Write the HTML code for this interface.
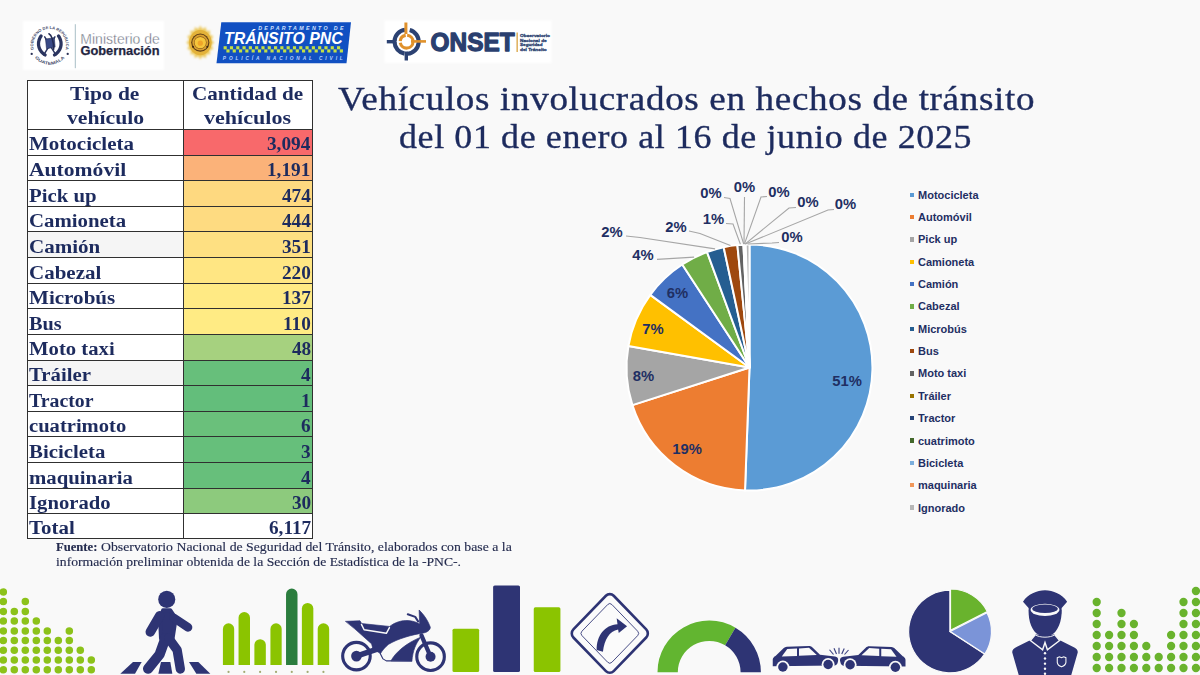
<!DOCTYPE html>
<html><head><meta charset="utf-8"><title>Vehículos involucrados en hechos de tránsito</title>
<style>
html,body{margin:0;padding:0;}
body{width:1200px;height:675px;overflow:hidden;background:#f9f9f9;position:relative;font-family:"Liberation Serif",serif;color:#1d2b5e;}
.abs{position:absolute;}
#tbl{position:absolute;left:27px;top:80px;width:286px;height:459px;background:#fff;}
.cell{position:absolute;box-sizing:border-box;white-space:nowrap;font-weight:bold;font-size:18.7px;line-height:25px;}
.hl{position:absolute;background:#303030;}
.ttl{position:absolute;white-space:nowrap;font-size:34px;line-height:38px;color:#1d2b5e;transform-origin:0 0;-webkit-text-stroke:0.35px #1d2b5e;}
.fn{position:absolute;white-space:nowrap;font-size:12.5px;line-height:15px;color:#252c4f;transform-origin:0 0;-webkit-text-stroke:0.15px #252c4f;}
.lg{position:absolute;white-space:nowrap;font-family:"Liberation Sans",sans-serif;font-weight:bold;font-size:11px;line-height:14px;color:#1f2f63;transform-origin:0 50%;}
.lgm{position:absolute;width:4.4px;height:4.4px;}
svg{position:absolute;left:0;top:0;overflow:visible;}
svg text{font-family:"Liberation Sans",sans-serif;font-weight:bold;}
</style></head><body>
<div class="abs" style="left:27.6px;top:80.2px;width:284.9px;height:458.1px;background:#fff"></div>
<div class="abs" style="left:183.5px;top:129.50px;width:129.0px;height:25.92px;background:#f8696b"></div>
<div class="abs" style="left:183.5px;top:155.12px;width:129.0px;height:25.92px;background:#fbb279"></div>
<div class="abs" style="left:183.5px;top:180.74px;width:129.0px;height:25.92px;background:#fed980"></div>
<div class="abs" style="left:183.5px;top:206.36px;width:129.0px;height:25.92px;background:#fedb81"></div>
<div class="abs" style="left:183.5px;top:231.98px;width:129.0px;height:25.92px;background:#fee082"></div>
<div class="abs" style="left:183.5px;top:257.60px;width:129.0px;height:25.92px;background:#ffe683"></div>
<div class="abs" style="left:183.5px;top:283.22px;width:129.0px;height:25.92px;background:#ffea84"></div>
<div class="abs" style="left:183.5px;top:308.84px;width:129.0px;height:25.92px;background:#ffeb84"></div>
<div class="abs" style="left:183.5px;top:334.46px;width:129.0px;height:25.92px;background:#a6d17f"></div>
<div class="abs" style="left:183.5px;top:360.08px;width:129.0px;height:25.92px;background:#67bf7b"></div>
<div class="abs" style="left:183.5px;top:385.70px;width:129.0px;height:25.92px;background:#63be7b"></div>
<div class="abs" style="left:183.5px;top:411.32px;width:129.0px;height:25.92px;background:#6ac07b"></div>
<div class="abs" style="left:183.5px;top:436.94px;width:129.0px;height:25.92px;background:#66bf7b"></div>
<div class="abs" style="left:183.5px;top:462.56px;width:129.0px;height:25.92px;background:#67bf7b"></div>
<div class="abs" style="left:183.5px;top:488.18px;width:129.0px;height:25.92px;background:#8dca7d"></div>
<div class="abs" style="left:183.5px;top:513.80px;width:129.0px;height:24.50px;background:#ffffff"></div>
<div class="abs" style="left:27.6px;top:231.98px;width:155.9px;height:25.62px;background:#f5f5f5"></div>
<div class="abs" style="left:27.6px;top:360.08px;width:155.9px;height:25.62px;background:#f5f5f5"></div>
<div class="hl" style="left:26.9px;top:79.60px;width:286.3px;height:1.2px"></div>
<div class="hl" style="left:26.9px;top:537.65px;width:286.3px;height:1.3px"></div>
<div class="hl" style="left:26.9px;top:129.00px;width:286.3px;height:1.0px"></div>
<div class="hl" style="left:26.9px;top:154.62px;width:286.3px;height:1.0px"></div>
<div class="hl" style="left:26.9px;top:180.24px;width:286.3px;height:1.0px"></div>
<div class="hl" style="left:26.9px;top:205.86px;width:286.3px;height:1.0px"></div>
<div class="hl" style="left:26.9px;top:231.48px;width:286.3px;height:1.0px"></div>
<div class="hl" style="left:26.9px;top:257.10px;width:286.3px;height:1.0px"></div>
<div class="hl" style="left:26.9px;top:282.72px;width:286.3px;height:1.0px"></div>
<div class="hl" style="left:26.9px;top:308.34px;width:286.3px;height:1.0px"></div>
<div class="hl" style="left:26.9px;top:333.96px;width:286.3px;height:1.0px"></div>
<div class="hl" style="left:26.9px;top:359.58px;width:286.3px;height:1.0px"></div>
<div class="hl" style="left:26.9px;top:385.20px;width:286.3px;height:1.0px"></div>
<div class="hl" style="left:26.9px;top:410.82px;width:286.3px;height:1.0px"></div>
<div class="hl" style="left:26.9px;top:436.44px;width:286.3px;height:1.0px"></div>
<div class="hl" style="left:26.9px;top:462.06px;width:286.3px;height:1.0px"></div>
<div class="hl" style="left:26.9px;top:487.68px;width:286.3px;height:1.0px"></div>
<div class="hl" style="left:26.9px;top:513.30px;width:286.3px;height:1.0px"></div>
<div class="hl" style="left:26.95px;top:79.5px;width:1.3px;height:459.5px"></div>
<div class="hl" style="left:311.85px;top:79.5px;width:1.3px;height:459.5px"></div>
<div class="hl" style="left:183.00px;top:79.5px;width:1.0px;height:459.5px"></div>
<div class="cell" style="left:70.3px;top:81.83px;font-size:19.5px;line-height:24px;transform-origin:0 0;transform:scaleX(1.1008)">Tipo de</div>
<div class="cell" style="left:66.6px;top:105.53px;font-size:19.5px;line-height:24px;transform-origin:0 0;transform:scaleX(1.1119)">vehículo</div>
<div class="cell" style="left:191.6px;top:82.03px;font-size:19.5px;line-height:24px;transform-origin:0 0;transform:scaleX(1.0849)">Cantidad de</div>
<div class="cell" style="left:204.2px;top:105.53px;font-size:19.5px;line-height:24px;transform-origin:0 0;transform:scaleX(1.1308)">vehículos</div>
<div class="cell" style="left:29px;top:131.48px;transform-origin:0 0;transform:scaleX(1.1243)">Motocicleta</div>
<div class="cell" style="left:267.49px;top:131.48px;transform-origin:0 0;transform:scaleX(1.03)">3,094</div>
<div class="cell" style="left:29px;top:157.10px;transform-origin:0 0;transform:scaleX(1.1559)">Automóvil</div>
<div class="cell" style="left:267.49px;top:157.10px;transform-origin:0 0;transform:scaleX(1.03)">1,191</div>
<div class="cell" style="left:29px;top:182.72px;transform-origin:0 0;transform:scaleX(1.1125)">Pick up</div>
<div class="cell" style="left:281.93px;top:182.72px;transform-origin:0 0;transform:scaleX(1.03)">474</div>
<div class="cell" style="left:29px;top:208.34px;transform-origin:0 0;transform:scaleX(1.1146)">Camioneta</div>
<div class="cell" style="left:281.93px;top:208.34px;transform-origin:0 0;transform:scaleX(1.03)">444</div>
<div class="cell" style="left:29px;top:233.96px;transform-origin:0 0;transform:scaleX(1.1256)">Camión</div>
<div class="cell" style="left:281.93px;top:233.96px;transform-origin:0 0;transform:scaleX(1.03)">351</div>
<div class="cell" style="left:29px;top:259.58px;transform-origin:0 0;transform:scaleX(1.1234)">Cabezal</div>
<div class="cell" style="left:281.93px;top:259.58px;transform-origin:0 0;transform:scaleX(1.03)">220</div>
<div class="cell" style="left:29px;top:285.20px;transform-origin:0 0;transform:scaleX(1.1283)">Microbús</div>
<div class="cell" style="left:281.93px;top:285.20px;transform-origin:0 0;transform:scaleX(1.03)">137</div>
<div class="cell" style="left:29px;top:310.82px;transform-origin:0 0;transform:scaleX(1.0849)">Bus</div>
<div class="cell" style="left:282.99px;top:310.82px;transform-origin:0 0;transform:scaleX(1.03)">110</div>
<div class="cell" style="left:29px;top:336.44px;transform-origin:0 0;transform:scaleX(1.1083)">Moto taxi</div>
<div class="cell" style="left:291.55px;top:336.44px;transform-origin:0 0;transform:scaleX(1.03)">48</div>
<div class="cell" style="left:29px;top:362.06px;transform-origin:0 0;transform:scaleX(1.1134)">Tráiler</div>
<div class="cell" style="left:301.18px;top:362.06px;transform-origin:0 0;transform:scaleX(1.03)">4</div>
<div class="cell" style="left:29px;top:387.68px;transform-origin:0 0;transform:scaleX(1.0595)">Tractor</div>
<div class="cell" style="left:301.18px;top:387.68px;transform-origin:0 0;transform:scaleX(1.03)">1</div>
<div class="cell" style="left:29px;top:413.30px;transform-origin:0 0;transform:scaleX(1.1018)">cuatrimoto</div>
<div class="cell" style="left:301.18px;top:413.30px;transform-origin:0 0;transform:scaleX(1.03)">6</div>
<div class="cell" style="left:29px;top:438.92px;transform-origin:0 0;transform:scaleX(1.1139)">Bicicleta</div>
<div class="cell" style="left:301.18px;top:438.92px;transform-origin:0 0;transform:scaleX(1.03)">3</div>
<div class="cell" style="left:29px;top:464.54px;transform-origin:0 0;transform:scaleX(1.1127)">maquinaria</div>
<div class="cell" style="left:301.18px;top:464.54px;transform-origin:0 0;transform:scaleX(1.03)">4</div>
<div class="cell" style="left:29px;top:490.16px;transform-origin:0 0;transform:scaleX(1.1067)">Ignorado</div>
<div class="cell" style="left:291.55px;top:490.16px;transform-origin:0 0;transform:scaleX(1.03)">30</div>
<div class="cell" style="left:29px;top:514.98px;transform-origin:0 0;transform:scaleX(1.1209)">Total</div>
<div class="cell" style="left:268.55px;top:514.98px;transform-origin:0 0;transform:scaleX(1.03)">6,117</div>
<div class="ttl" style="left:337.5px;top:80.24px;letter-spacing:0.6px;transform:scaleX(1.0906)">Vehículos involucrados en hechos de tránsito</div>
<div class="ttl" style="left:398.5px;top:117.74px;letter-spacing:0.6px;transform:scaleX(1.0553)">del 01 de enero al 16 de junio de 2025</div>
<div class="fn" style="left:56.0px;top:539.94px;font-weight:bold;transform:scaleX(1.0105)">Fuente:</div>
<div class="fn" style="left:101.0px;top:539.94px;transform:scaleX(1.1029)">Observatorio Nacional de Seguridad del Tránsito, elaborados con base a la</div>
<div class="fn" style="left:56.0px;top:554.64px;transform:scaleX(1.0935)">información preliminar obtenida de la Sección de Estadística de la -PNC-.</div>
<svg width="1200" height="675" viewBox="0 0 1200 675">
<path d="M749.50 367.50 L749.50 244.50 A123.00 123.00 0 1 1 745.02 490.42 Z" fill="#5B9BD5" stroke="#fff" stroke-width="2.0" stroke-linejoin="round"/>
<path d="M749.50 367.50 L745.02 490.42 A123.00 123.00 0 0 1 632.40 405.14 Z" fill="#ED7D31" stroke="#fff" stroke-width="2.0" stroke-linejoin="round"/>
<path d="M749.50 367.50 L632.40 405.14 A123.00 123.00 0 0 1 628.40 345.98 Z" fill="#A5A5A5" stroke="#fff" stroke-width="2.0" stroke-linejoin="round"/>
<path d="M749.50 367.50 L628.40 345.98 A123.00 123.00 0 0 1 650.26 294.84 Z" fill="#FFC000" stroke="#fff" stroke-width="2.0" stroke-linejoin="round"/>
<path d="M749.50 367.50 L650.26 294.84 A123.00 123.00 0 0 1 682.27 264.50 Z" fill="#4472C4" stroke="#fff" stroke-width="2.0" stroke-linejoin="round"/>
<path d="M749.50 367.50 L682.27 264.50 A123.00 123.00 0 0 1 707.06 252.06 Z" fill="#70AD47" stroke="#fff" stroke-width="2.0" stroke-linejoin="round"/>
<path d="M749.50 367.50 L707.06 252.06 A123.00 123.00 0 0 1 723.67 247.24 Z" fill="#255E91" stroke="#fff" stroke-width="2.0" stroke-linejoin="round"/>
<path d="M749.50 367.50 L723.67 247.24 A123.00 123.00 0 0 1 737.39 245.10 Z" fill="#9E480E" stroke="#fff" stroke-width="2.0" stroke-linejoin="round"/>
<path d="M749.50 367.50 L737.39 245.10 A123.00 123.00 0 0 1 743.44 244.65 Z" fill="#636363" stroke="#fff" stroke-width="2.0" stroke-linejoin="round"/>
<path d="M749.50 367.50 L743.44 244.65 A123.00 123.00 0 0 1 743.94 244.63 Z" fill="#997300" stroke="#fff" stroke-width="2.0" stroke-linejoin="round"/>
<path d="M749.50 367.50 L743.94 244.63 A123.00 123.00 0 0 1 744.07 244.62 Z" fill="#264478" stroke="#fff" stroke-width="2.0" stroke-linejoin="round"/>
<path d="M749.50 367.50 L744.07 244.62 A123.00 123.00 0 0 1 744.83 244.59 Z" fill="#43682B" stroke="#fff" stroke-width="2.0" stroke-linejoin="round"/>
<path d="M749.50 367.50 L744.83 244.59 A123.00 123.00 0 0 1 745.21 244.58 Z" fill="#7CAFDD" stroke="#fff" stroke-width="2.0" stroke-linejoin="round"/>
<path d="M749.50 367.50 L745.21 244.58 A123.00 123.00 0 0 1 745.71 244.56 Z" fill="#F1975A" stroke="#fff" stroke-width="2.0" stroke-linejoin="round"/>
<path d="M749.50 367.50 L745.71 244.56 A123.00 123.00 0 0 1 749.50 244.50 Z" fill="#B7B7B7" stroke="#fff" stroke-width="2.0" stroke-linejoin="round"/>
<path d="M657.0 259.4  L694.1 257.1" fill="none" stroke="#a6a6a6" stroke-width="1.1"/>
<path d="M626.0 236.0 L640.0 237.5 L715.1 248.9" fill="none" stroke="#a6a6a6" stroke-width="1.1"/>
<path d="M689.0 231.0 L700.0 233.5 L730.4 245.5" fill="none" stroke="#a6a6a6" stroke-width="1.1"/>
<path d="M726.0 223.5 L733.0 224.0 L740.4 244.3" fill="none" stroke="#a6a6a6" stroke-width="1.1"/>
<path d="M724.0 197.5 L730.0 198.5 L743.7 244.1" fill="none" stroke="#a6a6a6" stroke-width="1.1"/>
<path d="M744.5 197.0  L744.0 244.1" fill="none" stroke="#a6a6a6" stroke-width="1.1"/>
<path d="M767.0 196.5 L761.0 197.0 L744.4 244.1" fill="none" stroke="#a6a6a6" stroke-width="1.1"/>
<path d="M796.0 207.5 L789.0 208.0 L745.0 244.1" fill="none" stroke="#a6a6a6" stroke-width="1.1"/>
<path d="M834.0 209.5 L828.0 210.0 L745.4 244.1" fill="none" stroke="#a6a6a6" stroke-width="1.1"/>
<path d="M779.0 242.5 L772.0 243.0 L747.6 244.0" fill="none" stroke="#a6a6a6" stroke-width="1.1"/>
<text x="847.0" y="380.5" font-size="14.8" text-anchor="middle" fill="#1f2f63" dominant-baseline="central">51%</text>
<text x="687.0" y="449.0" font-size="14.8" text-anchor="middle" fill="#1f2f63" dominant-baseline="central">19%</text>
<text x="643.5" y="375.5" font-size="14.8" text-anchor="middle" fill="#1f2f63" dominant-baseline="central">8%</text>
<text x="653.0" y="328.5" font-size="14.8" text-anchor="middle" fill="#1f2f63" dominant-baseline="central">7%</text>
<text x="677.5" y="293.0" font-size="14.8" text-anchor="middle" fill="#1f2f63" dominant-baseline="central">6%</text>
<text x="643.0" y="255.0" font-size="14.8" text-anchor="middle" fill="#1f2f63" dominant-baseline="central">4%</text>
<text x="612.0" y="231.5" font-size="14.8" text-anchor="middle" fill="#1f2f63" dominant-baseline="central">2%</text>
<text x="676.0" y="226.5" font-size="14.8" text-anchor="middle" fill="#1f2f63" dominant-baseline="central">2%</text>
<text x="713.5" y="219.0" font-size="14.8" text-anchor="middle" fill="#1f2f63" dominant-baseline="central">1%</text>
<text x="711.0" y="193.0" font-size="14.8" text-anchor="middle" fill="#1f2f63" dominant-baseline="central">0%</text>
<text x="744.5" y="187.0" font-size="14.8" text-anchor="middle" fill="#1f2f63" dominant-baseline="central">0%</text>
<text x="779.0" y="191.5" font-size="14.8" text-anchor="middle" fill="#1f2f63" dominant-baseline="central">0%</text>
<text x="808.0" y="202.0" font-size="14.8" text-anchor="middle" fill="#1f2f63" dominant-baseline="central">0%</text>
<text x="845.5" y="204.0" font-size="14.8" text-anchor="middle" fill="#1f2f63" dominant-baseline="central">0%</text>
<text x="792.0" y="237.0" font-size="14.8" text-anchor="middle" fill="#1f2f63" dominant-baseline="central">0%</text>
</svg>
<div class="lgm" style="left:909.7px;top:192.6px;background:#5B9BD5"></div>
<div class="lg" style="left:918px;top:187.7px;">Motocicleta</div>
<div class="lgm" style="left:909.7px;top:214.9px;background:#ED7D31"></div>
<div class="lg" style="left:918px;top:210.0px;">Automóvil</div>
<div class="lgm" style="left:909.7px;top:237.3px;background:#A5A5A5"></div>
<div class="lg" style="left:918px;top:232.4px;">Pick up</div>
<div class="lgm" style="left:909.7px;top:259.6px;background:#FFC000"></div>
<div class="lg" style="left:918px;top:254.7px;">Camioneta</div>
<div class="lgm" style="left:909.7px;top:282.0px;background:#4472C4"></div>
<div class="lg" style="left:918px;top:277.1px;">Camión</div>
<div class="lgm" style="left:909.7px;top:304.3px;background:#70AD47"></div>
<div class="lg" style="left:918px;top:299.4px;">Cabezal</div>
<div class="lgm" style="left:909.7px;top:326.7px;background:#255E91"></div>
<div class="lg" style="left:918px;top:321.8px;">Microbús</div>
<div class="lgm" style="left:909.7px;top:349.0px;background:#9E480E"></div>
<div class="lg" style="left:918px;top:344.1px;">Bus</div>
<div class="lgm" style="left:909.7px;top:371.3px;background:#636363"></div>
<div class="lg" style="left:918px;top:366.4px;">Moto taxi</div>
<div class="lgm" style="left:909.7px;top:393.7px;background:#997300"></div>
<div class="lg" style="left:918px;top:388.8px;">Tráiler</div>
<div class="lgm" style="left:909.7px;top:416.0px;background:#264478"></div>
<div class="lg" style="left:918px;top:411.1px;">Tractor</div>
<div class="lgm" style="left:909.7px;top:438.4px;background:#43682B"></div>
<div class="lg" style="left:918px;top:433.5px;">cuatrimoto</div>
<div class="lgm" style="left:909.7px;top:460.7px;background:#7CAFDD"></div>
<div class="lg" style="left:918px;top:455.8px;">Bicicleta</div>
<div class="lgm" style="left:909.7px;top:483.1px;background:#F1975A"></div>
<div class="lg" style="left:918px;top:478.2px;">maquinaria</div>
<div class="lgm" style="left:909.7px;top:505.4px;background:#B7B7B7"></div>
<div class="lg" style="left:918px;top:500.5px;">Ignorado</div>
<svg width="1200" height="675" viewBox="0 0 1200 675">
<defs><filter id="soft" x="-5%" y="-10%" width="110%" height="120%"><feGaussianBlur stdDeviation="0.9"/></filter></defs>
<rect x="23" y="21" width="141" height="49" fill="#ffffff" filter="url(#soft)"/>
<path id="arcTop" d="M34.49 51.44 A16.40 16.40 0 1 1 64.91 51.44" fill="none"/>
<path id="arcBot" d="M34.01 56.70 A19.40 19.40 0 0 0 65.39 56.70" fill="none"/>
<text font-size="4.0" fill="#444b6a" textLength="59.6" lengthAdjust="spacingAndGlyphs" style="font-weight:bold"><textPath href="#arcTop" startOffset="3%">GOBIERNO DE LA REPÚBLICA</textPath></text>
<text font-size="4.2" fill="#444b6a" textLength="33.6" lengthAdjust="spacingAndGlyphs" style="font-weight:bold"><textPath href="#arcBot" startOffset="4%">GUATEMALA</textPath></text>
<circle cx="31.7" cy="53.9" r="1.15" fill="#2a3156"/>
<circle cx="67.7" cy="53.9" r="1.15" fill="#2a3156"/>
<path d="M41.1 36.1 C36.5 42.3 38.2 50.8 45.1 54.9" fill="none" stroke="#2b3560" stroke-width="3.3" stroke-linecap="round" stroke-dasharray="2.2 0.5"/>
<path d="M58.5 36.1 C63.1 42.3 61.4 50.8 54.5 54.9" fill="none" stroke="#2b3560" stroke-width="3.3" stroke-linecap="round" stroke-dasharray="2.2 0.5"/>
<path d="M44.7 36.8 L55.9 54.9 M54.9 36.8 L43.7 54.9" stroke="#2b3560" stroke-width="1.5" stroke-linecap="round"/>
<path d="M45.5 39.1 L54.3 37.7 L55.1 47.1 L46.5 48.7 Z" fill="#3a4a86" stroke="#222a52" stroke-width="0.6"/>
<path d="M48.9 33.7 C50.3 34.3 51.3 35.8 52.1 38.3 C53.3 42.3 53.9 45.8 53.7 49.3" fill="none" stroke="#222a52" stroke-width="1.5" stroke-linecap="round"/>
<rect x="74.8" y="24.2" width="1.0" height="44" fill="#a9bfc6"/>
<text x="80.3" y="44.0" font-size="14.6" fill="#646a78" textLength="79.5" lengthAdjust="spacingAndGlyphs" style="font-weight:normal" stroke="#ffffff" stroke-width="0.35">Ministerio de</text>
<text x="80.5" y="55.4" font-size="12.6" fill="#1f2541" textLength="79" lengthAdjust="spacingAndGlyphs" stroke="#1f2541" stroke-width="0.25">Gobernación</text>
<polygon points="200.30,25.60 202.49,29.26 205.66,26.89 206.52,31.29 210.20,30.58 209.61,35.04 213.23,36.09 211.28,39.95 214.30,42.60 211.28,45.25 213.23,49.11 209.61,50.16 210.20,54.62 206.52,53.91 205.66,58.31 202.49,55.94 200.30,59.60 198.11,55.94 194.94,58.31 194.08,53.91 190.40,54.62 190.99,50.16 187.37,49.11 189.32,45.25 186.30,42.60 189.32,39.95 187.37,36.09 190.99,35.04 190.40,30.58 194.08,31.29 194.94,26.89 198.11,29.26" fill="#ecc95c" filter="url(#soft)"/>
<ellipse cx="200.3" cy="42.6" rx="11.3" ry="12.6" fill="#e3b23a"/>
<circle cx="200.3" cy="42.6" r="9.1" fill="#5e3d17"/>
<circle cx="200.3" cy="42.6" r="8.0" fill="#d8a031"/>
<circle cx="200.3" cy="42.6" r="6.3" fill="#8a5a1c"/>
<circle cx="200.3" cy="42.6" r="5.7" fill="#f6c63c"/>
<circle cx="200.3" cy="43.2" r="2.6" fill="#f0a428"/>
<circle cx="193.0" cy="46.7" r="1.0" fill="#3a2410"/>
<circle cx="207.3" cy="46.7" r="1.0" fill="#3a2410"/>
<path d="M221.3 22.2 L351 22.2 L346.5 63.3 L216.5 63.3 Z" fill="#1150c2"/>
<text x="258.2" y="30.1" font-size="5.3" fill="#cfe0ff" textLength="85.3" lengthAdjust="spacing" style="font-style:italic">DEPARTAMENTO DE</text>
<text x="224" y="44.4" font-size="16.2" fill="#ffffff" textLength="118.8" lengthAdjust="spacingAndGlyphs" style="font-style:italic">TRÁNSITO PNC</text>
<rect x="223.60" y="46.20" width="3.15" height="3.15" fill="#c3df45"/>
<rect x="229.90" y="46.20" width="3.15" height="3.15" fill="#c3df45"/>
<rect x="236.20" y="46.20" width="3.15" height="3.15" fill="#c3df45"/>
<rect x="242.50" y="46.20" width="3.15" height="3.15" fill="#c3df45"/>
<rect x="248.80" y="46.20" width="3.15" height="3.15" fill="#c3df45"/>
<rect x="255.10" y="46.20" width="3.15" height="3.15" fill="#c3df45"/>
<rect x="261.40" y="46.20" width="3.15" height="3.15" fill="#c3df45"/>
<rect x="267.70" y="46.20" width="3.15" height="3.15" fill="#c3df45"/>
<rect x="274.00" y="46.20" width="3.15" height="3.15" fill="#c3df45"/>
<rect x="280.30" y="46.20" width="3.15" height="3.15" fill="#c3df45"/>
<rect x="286.60" y="46.20" width="3.15" height="3.15" fill="#c3df45"/>
<rect x="292.90" y="46.20" width="3.15" height="3.15" fill="#c3df45"/>
<rect x="299.20" y="46.20" width="3.15" height="3.15" fill="#c3df45"/>
<rect x="305.50" y="46.20" width="3.15" height="3.15" fill="#c3df45"/>
<rect x="311.80" y="46.20" width="3.15" height="3.15" fill="#c3df45"/>
<rect x="318.10" y="46.20" width="3.15" height="3.15" fill="#c3df45"/>
<rect x="324.40" y="46.20" width="3.15" height="3.15" fill="#c3df45"/>
<rect x="330.70" y="46.20" width="3.15" height="3.15" fill="#c3df45"/>
<rect x="337.00" y="46.20" width="3.15" height="3.15" fill="#c3df45"/>
<rect x="226.40" y="49.35" width="3.15" height="3.15" fill="#c3df45"/>
<rect x="232.70" y="49.35" width="3.15" height="3.15" fill="#c3df45"/>
<rect x="239.00" y="49.35" width="3.15" height="3.15" fill="#c3df45"/>
<rect x="245.30" y="49.35" width="3.15" height="3.15" fill="#c3df45"/>
<rect x="251.60" y="49.35" width="3.15" height="3.15" fill="#c3df45"/>
<rect x="257.90" y="49.35" width="3.15" height="3.15" fill="#c3df45"/>
<rect x="264.20" y="49.35" width="3.15" height="3.15" fill="#c3df45"/>
<rect x="270.50" y="49.35" width="3.15" height="3.15" fill="#c3df45"/>
<rect x="276.80" y="49.35" width="3.15" height="3.15" fill="#c3df45"/>
<rect x="283.10" y="49.35" width="3.15" height="3.15" fill="#c3df45"/>
<rect x="289.40" y="49.35" width="3.15" height="3.15" fill="#c3df45"/>
<rect x="295.70" y="49.35" width="3.15" height="3.15" fill="#c3df45"/>
<rect x="302.00" y="49.35" width="3.15" height="3.15" fill="#c3df45"/>
<rect x="308.30" y="49.35" width="3.15" height="3.15" fill="#c3df45"/>
<rect x="314.60" y="49.35" width="3.15" height="3.15" fill="#c3df45"/>
<rect x="320.90" y="49.35" width="3.15" height="3.15" fill="#c3df45"/>
<rect x="327.20" y="49.35" width="3.15" height="3.15" fill="#c3df45"/>
<rect x="333.50" y="49.35" width="3.15" height="3.15" fill="#c3df45"/>
<rect x="339.80" y="49.35" width="3.15" height="3.15" fill="#c3df45"/>
<text x="222.8" y="59.9" font-size="4.8" fill="#b9d2ff" textLength="120" lengthAdjust="spacing" style="font-style:italic">POLICÍA NACIONAL CIVIL</text>
<rect x="384.5" y="20.5" width="167" height="42.5" fill="#ffffff" filter="url(#soft)"/>
<path d="M409.73 30.01 A12.10 12.10 0 0 1 407.65 53.75" fill="none" stroke="#2c4272" stroke-width="4.1"/>
<path d="M404.50 53.62 A12.10 12.10 0 0 1 394.51 42.12" fill="none" stroke="#2c4272" stroke-width="4.1"/>
<path d="M394.51 41.28 A12.10 12.10 0 0 1 404.92 29.72" fill="none" stroke="#2c4272" stroke-width="4.1"/>
<path d="M386.8 41.7 L396.5 41.7" stroke="#2c4272" stroke-width="3.4"/>
<path d="M406.3 51.5 L406.3 60.5" stroke="#2c4272" stroke-width="3.4"/>
<path d="M407.16 35.32 A6.40 6.40 0 1 1 400.30 42.81" fill="none" stroke="#e0912b" stroke-width="3.1"/>
<path d="M400.22 41.14 A6.40 6.40 0 0 1 405.71 35.36" fill="none" stroke="#e0912b" stroke-width="3.1"/>
<path d="M405.9 22.5 L405.9 34" stroke="#e0912b" stroke-width="3.0"/>
<path d="M411 41.4 L426 41.4" stroke="#e0912b" stroke-width="2.6"/>
<text x="430.6" y="51.3" font-size="26" fill="#2a3f6f" stroke="#2a3f6f" stroke-width="1.3" stroke-linejoin="round" textLength="84" lengthAdjust="spacingAndGlyphs">ONSET</text>
<rect x="516.5" y="32.5" width="1.3" height="19.5" fill="#d9a441"/>
<text x="520" y="36.7" font-size="4.2" fill="#2a3f6f" stroke="#2a3f6f" stroke-width="0.3" textLength="30.0" lengthAdjust="spacingAndGlyphs">Observatorio</text>
<text x="520" y="41.5" font-size="4.2" fill="#2a3f6f" stroke="#2a3f6f" stroke-width="0.3" textLength="26.7" lengthAdjust="spacingAndGlyphs">Nacional de</text>
<text x="520" y="46.2" font-size="4.2" fill="#2a3f6f" stroke="#2a3f6f" stroke-width="0.3" textLength="22.5" lengthAdjust="spacingAndGlyphs">Seguridad</text>
<text x="520" y="51.0" font-size="4.2" fill="#2a3f6f" stroke="#2a3f6f" stroke-width="0.3" textLength="26.7" lengthAdjust="spacingAndGlyphs">del Tránsito</text>
</svg>
<svg width="1200" height="675" viewBox="0 0 1200 675">
<circle cx="3.3" cy="591.9" r="3.75" fill="#8cc21a"/>
<circle cx="3.3" cy="601.6" r="3.75" fill="#8cc21a"/>
<circle cx="3.3" cy="611.4" r="3.75" fill="#8cc21a"/>
<circle cx="3.3" cy="621.1" r="3.75" fill="#8cc21a"/>
<circle cx="3.3" cy="630.9" r="3.75" fill="#8cc21a"/>
<circle cx="3.3" cy="640.6" r="3.75" fill="#8cc21a"/>
<circle cx="3.3" cy="650.3" r="3.75" fill="#8cc21a"/>
<circle cx="3.3" cy="660.1" r="3.75" fill="#8cc21a"/>
<circle cx="3.3" cy="669.8" r="3.75" fill="#8cc21a"/>
<circle cx="14.3" cy="611.4" r="3.75" fill="#8cc21a"/>
<circle cx="14.3" cy="621.1" r="3.75" fill="#8cc21a"/>
<circle cx="14.3" cy="630.9" r="3.75" fill="#8cc21a"/>
<circle cx="14.3" cy="640.6" r="3.75" fill="#8cc21a"/>
<circle cx="14.3" cy="650.3" r="3.75" fill="#8cc21a"/>
<circle cx="14.3" cy="660.1" r="3.75" fill="#8cc21a"/>
<circle cx="14.3" cy="669.8" r="3.75" fill="#8cc21a"/>
<circle cx="25.3" cy="601.6" r="3.75" fill="#8cc21a"/>
<circle cx="25.3" cy="611.4" r="3.75" fill="#8cc21a"/>
<circle cx="25.3" cy="621.1" r="3.75" fill="#8cc21a"/>
<circle cx="25.3" cy="630.9" r="3.75" fill="#8cc21a"/>
<circle cx="25.3" cy="640.6" r="3.75" fill="#8cc21a"/>
<circle cx="25.3" cy="650.3" r="3.75" fill="#8cc21a"/>
<circle cx="25.3" cy="660.1" r="3.75" fill="#8cc21a"/>
<circle cx="25.3" cy="669.8" r="3.75" fill="#8cc21a"/>
<circle cx="36.3" cy="621.1" r="3.75" fill="#8cc21a"/>
<circle cx="36.3" cy="630.9" r="3.75" fill="#8cc21a"/>
<circle cx="36.3" cy="640.6" r="3.75" fill="#8cc21a"/>
<circle cx="36.3" cy="650.3" r="3.75" fill="#8cc21a"/>
<circle cx="36.3" cy="660.1" r="3.75" fill="#8cc21a"/>
<circle cx="36.3" cy="669.8" r="3.75" fill="#8cc21a"/>
<circle cx="47.3" cy="630.9" r="3.75" fill="#8cc21a"/>
<circle cx="47.3" cy="640.6" r="3.75" fill="#8cc21a"/>
<circle cx="47.3" cy="650.3" r="3.75" fill="#8cc21a"/>
<circle cx="47.3" cy="660.1" r="3.75" fill="#8cc21a"/>
<circle cx="47.3" cy="669.8" r="3.75" fill="#8cc21a"/>
<circle cx="58.3" cy="640.6" r="3.75" fill="#8cc21a"/>
<circle cx="58.3" cy="650.3" r="3.75" fill="#8cc21a"/>
<circle cx="58.3" cy="660.1" r="3.75" fill="#8cc21a"/>
<circle cx="58.3" cy="669.8" r="3.75" fill="#8cc21a"/>
<circle cx="69.3" cy="630.9" r="3.75" fill="#8cc21a"/>
<circle cx="69.3" cy="640.6" r="3.75" fill="#8cc21a"/>
<circle cx="69.3" cy="650.3" r="3.75" fill="#8cc21a"/>
<circle cx="69.3" cy="660.1" r="3.75" fill="#8cc21a"/>
<circle cx="69.3" cy="669.8" r="3.75" fill="#8cc21a"/>
<circle cx="80.3" cy="650.3" r="3.75" fill="#8cc21a"/>
<circle cx="80.3" cy="660.1" r="3.75" fill="#8cc21a"/>
<circle cx="80.3" cy="669.8" r="3.75" fill="#8cc21a"/>
<circle cx="91.3" cy="660.1" r="3.75" fill="#8cc21a"/>
<circle cx="91.3" cy="669.8" r="3.75" fill="#8cc21a"/>
<g transform="translate(115,585) scale(0.133333)" fill="#2e3474" stroke="#2e3474" stroke-linecap="round" stroke-linejoin="round">
<circle cx="388" cy="108" r="64" stroke="none"/>
<path d="M360 190 L415 190 L455 250 L432 400 L345 400 L338 250 Z" stroke-width="30"/>
<path d="M335 232 L265 352" fill="none" stroke-width="72"/>
<path d="M440 245 L548 318" fill="none" stroke-width="64"/>
<path d="M378 400 L335 520 L248 628" fill="none" stroke-width="76"/>
<path d="M402 400 L466 488 L490 630" fill="none" stroke-width="70"/>
<path d="M135 578 L200 578 L150 665 L40 665 Z" stroke="none"/>
<path d="M345 578 L415 578 L430 665 L325 665 Z" stroke="none"/>
<path d="M555 578 L625 578 L715 665 L610 665 Z" stroke="none"/>
</g>
<path d="M222.92 665.00 L222.92 628.96 A5.62 5.62 0 0 1 234.17 628.96 L234.17 665.00 Z" fill="#8bc400"/>
<circle cx="228.54" cy="671.9" r="1.1" fill="#a3ab72"/>
<path d="M238.54 665.00 L238.54 617.81 A5.73 5.73 0 0 1 250.00 617.81 L250.00 665.00 Z" fill="#8bc400"/>
<circle cx="244.27" cy="671.9" r="1.1" fill="#a3ab72"/>
<path d="M254.38 665.00 L254.38 644.69 A5.73 5.73 0 0 1 265.83 644.69 L265.83 665.00 Z" fill="#8bc400"/>
<circle cx="260.10" cy="671.9" r="1.1" fill="#a3ab72"/>
<path d="M270.42 665.00 L270.42 628.96 A5.62 5.62 0 0 1 281.67 628.96 L281.67 665.00 Z" fill="#8bc400"/>
<circle cx="276.04" cy="671.9" r="1.1" fill="#a3ab72"/>
<path d="M286.04 665.00 L286.04 594.27 A5.73 5.73 0 0 1 297.50 594.27 L297.50 665.00 Z" fill="#2b7d3e"/>
<circle cx="291.77" cy="671.9" r="1.1" fill="#a3ab72"/>
<path d="M301.88 665.00 L301.88 608.44 A5.73 5.73 0 0 1 313.33 608.44 L313.33 665.00 Z" fill="#8bc400"/>
<circle cx="307.60" cy="671.9" r="1.1" fill="#a3ab72"/>
<path d="M317.71 665.00 L317.71 629.06 A5.73 5.73 0 0 1 329.17 629.06 L329.17 665.00 Z" fill="#8bc400"/>
<circle cx="323.44" cy="671.9" r="1.1" fill="#a3ab72"/>
<g transform="translate(335,600) scale(0.111111)" fill="#2e3474" stroke="#2e3474" stroke-linecap="round" stroke-linejoin="round">
<path d="M97 192 L225 187 L240 212 L492 238 C540 200 600 182 660 185 C700 188 735 200 762 215 L757 90 C800 130 840 190 858 245 C858 270 830 290 800 296 C700 310 560 350 480 400 C450 425 425 455 410 482 L340 440 L330 395 L180 262 Z" stroke-width="6"/>
<circle cx="193" cy="505" r="150" fill="none" stroke="#f9f9f9" stroke-width="18"/>
<circle cx="193" cy="505" r="124" fill="none" stroke-width="28"/>
<circle cx="193" cy="505" r="48" stroke="none"/>
<circle cx="860" cy="510" r="124" fill="none" stroke-width="28"/>
<circle cx="860" cy="510" r="45" stroke="none"/>
<path d="M193 505 L400 435" fill="none" stroke-width="50"/>
<path d="M778 318 L860 510" fill="none" stroke-width="38"/>
<path d="M505 545 C545 470 640 390 770 335 C725 400 702 450 692 548 Z" stroke-width="6"/>
<path d="M406 480 L432 530 L462 548 L690 548" fill="none" stroke-width="10"/>
<path d="M655 128 L722 152 L748 192" fill="none" stroke-width="18"/>
<path d="M238 220 L262 268 L462 300 L490 248" fill="none" stroke="#f9f9f9" stroke-width="13"/>
</g>
<rect x="452.50" y="628.75" width="26.67" height="43.33" rx="1.6" fill="#8bc400"/>
<rect x="493.12" y="585.42" width="26.88" height="86.67" rx="1.6" fill="#2e3474"/>
<rect x="533.75" y="607.29" width="26.67" height="64.79" rx="1.6" fill="#8bc400"/>
<g transform="translate(609.8,633.4) scale(1,1.035) rotate(45)">
<rect x="-28.5" y="-28.5" width="57" height="57" rx="5.5" fill="#fbfbfb" stroke="#2e3474" stroke-width="2.6"/>
<rect x="-21.2" y="-21.2" width="42.4" height="42.4" rx="3" fill="none" stroke="#2e3474" stroke-width="0.8"/>
</g>
<g transform="translate(440,575) scale(0.208333)" fill="#2e3474" stroke="none">
<path d="M752 360 C752 290 790 240 852 236 L848 208 L898 246 L858 278 L855 262 C812 270 790 310 782 368 Z"/>
</g>
<path d="M657.50 672.30 A51.70 51.70 0 0 1 735.44 627.75 L725.14 645.24 A31.40 31.40 0 0 0 677.80 672.30 Z" fill="#62b530"/>
<path d="M735.44 627.75 A51.70 51.70 0 0 1 760.90 672.30 L740.60 672.30 A31.40 31.40 0 0 0 725.14 645.24 Z" fill="#2e3474"/>
<g transform="translate(765,635) scale(0.125)" fill="#2e3474" stroke="none">
<path d="M62 246 L62 196 C64 182 72 174 84 168 L150 104 C156 98 164 95 174 94 L352 88 C364 88 372 92 380 100 L440 158 L560 172 C578 176 588 186 586 204 L580 226 C576 236 568 242 556 244 L62 250 Z"/><path d="M134 172 L178 112 L256 108 L256 168 Z" fill="#f9f9f9"/><path d="M272 166 L272 107 L352 102 L414 160 Z" fill="#f9f9f9"/><circle cx="143" cy="256" r="52" fill="#f9f9f9"/><circle cx="143" cy="256" r="38"/><circle cx="505" cy="236" r="52" fill="#f9f9f9"/><circle cx="505" cy="236" r="38"/>
<g transform="translate(1186,2) scale(-1,1)"><path d="M62 246 L62 196 C64 182 72 174 84 168 L150 104 C156 98 164 95 174 94 L352 88 C364 88 372 92 380 100 L440 158 L560 172 C578 176 588 186 586 204 L580 226 C576 236 568 242 556 244 L62 250 Z"/><path d="M134 172 L178 112 L256 108 L256 168 Z" fill="#f9f9f9"/><path d="M272 166 L272 107 L352 102 L414 160 Z" fill="#f9f9f9"/><circle cx="143" cy="256" r="52" fill="#f9f9f9"/><circle cx="143" cy="256" r="38"/><circle cx="505" cy="236" r="52" fill="#f9f9f9"/><circle cx="505" cy="236" r="38"/></g>
<path d="M516 118 L548 156" stroke="#3a4080" stroke-width="9" fill="none"/>
<path d="M552 106 L572 152" stroke="#3a4080" stroke-width="9" fill="none"/>
<path d="M592 102 L592 150" stroke="#3a4080" stroke-width="9" fill="none"/>
<path d="M634 108 L614 152" stroke="#3a4080" stroke-width="9" fill="none"/>
<path d="M668 120 L636 156" stroke="#3a4080" stroke-width="9" fill="none"/>
<rect x="588" y="168" width="8" height="60" fill="#f9f9f9"/>
</g>
<path d="M949.90 631.50 L984.54 653.99 A41.30 41.30 0 1 1 949.90 590.20 Z" fill="#2e3474" stroke="#f9f9f9" stroke-width="1.2"/>
<path d="M950.20 631.50 L987.00 612.75 A41.30 41.30 0 0 1 984.84 653.99 Z" fill="#7b94d8" stroke="#f9f9f9" stroke-width="1.2"/>
<path d="M950.50 630.30 L950.50 589.00 A41.30 41.30 0 0 1 987.30 611.55 Z" fill="#69b32d" stroke="#f9f9f9" stroke-width="1.2"/>
<g transform="translate(1005,585) scale(0.133333)" fill="#2e3474" stroke="none">
<path d="M135 126 C170 70 240 40 300 40 C360 40 430 70 466 126 L425 172 L422 215 L180 215 L177 172 Z"/>
<path d="M178 185 L424 185 C430 270 392 352 352 372 C330 386 272 386 250 372 C208 352 172 270 178 185 Z"/>
<ellipse cx="300" cy="186" rx="108" ry="46" fill="#f9f9f9"/>
<ellipse cx="300" cy="178" rx="96" ry="32"/>
<path d="M228 372 L372 372 L412 414 L520 468 C540 478 548 492 545 508 L497 675 L103 675 L55 508 C52 492 60 478 80 468 L188 414 Z"/>
<path d="M226 374 L190 416 L282 486 L300 432 L318 486 L410 416 L374 374" fill="none" stroke="#f9f9f9" stroke-width="11" stroke-linejoin="miter"/>
<path d="M224 372 C262 398 338 398 376 372" fill="none" stroke="#f9f9f9" stroke-width="7"/>
<circle cx="300" cy="512" r="9" fill="#f9f9f9"/>
<circle cx="300" cy="551" r="9" fill="#f9f9f9"/>
<circle cx="300" cy="590" r="9" fill="#f9f9f9"/>
<circle cx="300" cy="628" r="9" fill="#f9f9f9"/>
<circle cx="300" cy="666" r="9" fill="#f9f9f9"/>
<path d="M392 545 L408 538 L424 545 L440 538 L457 545 L457 580 C455 598 440 608 424 614 C408 608 394 598 392 580 Z" fill="none" stroke="#f9f9f9" stroke-width="8"/>
</g>
<circle cx="1096.7" cy="602.0" r="4.15" fill="#69b32d"/>
<circle cx="1096.7" cy="613.0" r="4.15" fill="#69b32d"/>
<circle cx="1096.7" cy="624.0" r="4.15" fill="#69b32d"/>
<circle cx="1096.7" cy="635.0" r="4.15" fill="#69b32d"/>
<circle cx="1096.7" cy="646.0" r="4.15" fill="#69b32d"/>
<circle cx="1096.7" cy="657.0" r="4.15" fill="#69b32d"/>
<circle cx="1096.7" cy="668.0" r="4.15" fill="#69b32d"/>
<circle cx="1109.1" cy="635.0" r="4.15" fill="#69b32d"/>
<circle cx="1109.1" cy="646.0" r="4.15" fill="#69b32d"/>
<circle cx="1109.1" cy="657.0" r="4.15" fill="#69b32d"/>
<circle cx="1109.1" cy="668.0" r="4.15" fill="#69b32d"/>
<circle cx="1121.5" cy="613.0" r="4.15" fill="#69b32d"/>
<circle cx="1121.5" cy="624.0" r="4.15" fill="#69b32d"/>
<circle cx="1121.5" cy="635.0" r="4.15" fill="#69b32d"/>
<circle cx="1121.5" cy="646.0" r="4.15" fill="#69b32d"/>
<circle cx="1121.5" cy="657.0" r="4.15" fill="#69b32d"/>
<circle cx="1121.5" cy="668.0" r="4.15" fill="#69b32d"/>
<circle cx="1133.9" cy="624.0" r="4.15" fill="#69b32d"/>
<circle cx="1133.9" cy="635.0" r="4.15" fill="#69b32d"/>
<circle cx="1133.9" cy="646.0" r="4.15" fill="#69b32d"/>
<circle cx="1133.9" cy="657.0" r="4.15" fill="#69b32d"/>
<circle cx="1133.9" cy="668.0" r="4.15" fill="#69b32d"/>
<circle cx="1146.3" cy="646.0" r="4.15" fill="#69b32d"/>
<circle cx="1146.3" cy="657.0" r="4.15" fill="#69b32d"/>
<circle cx="1146.3" cy="668.0" r="4.15" fill="#69b32d"/>
<circle cx="1158.7" cy="657.0" r="4.15" fill="#69b32d"/>
<circle cx="1158.7" cy="668.0" r="4.15" fill="#69b32d"/>
<circle cx="1171.1" cy="635.0" r="4.15" fill="#69b32d"/>
<circle cx="1171.1" cy="646.0" r="4.15" fill="#69b32d"/>
<circle cx="1171.1" cy="657.0" r="4.15" fill="#69b32d"/>
<circle cx="1171.1" cy="668.0" r="4.15" fill="#69b32d"/>
<circle cx="1183.5" cy="602.0" r="4.15" fill="#69b32d"/>
<circle cx="1183.5" cy="613.0" r="4.15" fill="#69b32d"/>
<circle cx="1183.5" cy="624.0" r="4.15" fill="#69b32d"/>
<circle cx="1183.5" cy="635.0" r="4.15" fill="#69b32d"/>
<circle cx="1183.5" cy="646.0" r="4.15" fill="#69b32d"/>
<circle cx="1183.5" cy="657.0" r="4.15" fill="#69b32d"/>
<circle cx="1183.5" cy="668.0" r="4.15" fill="#69b32d"/>
<circle cx="1195.9" cy="591.0" r="4.15" fill="#69b32d"/>
<circle cx="1195.9" cy="602.0" r="4.15" fill="#69b32d"/>
<circle cx="1195.9" cy="613.0" r="4.15" fill="#69b32d"/>
<circle cx="1195.9" cy="624.0" r="4.15" fill="#69b32d"/>
<circle cx="1195.9" cy="635.0" r="4.15" fill="#69b32d"/>
<circle cx="1195.9" cy="646.0" r="4.15" fill="#69b32d"/>
<circle cx="1195.9" cy="657.0" r="4.15" fill="#69b32d"/>
<circle cx="1195.9" cy="668.0" r="4.15" fill="#69b32d"/>
</svg>
</body></html>
